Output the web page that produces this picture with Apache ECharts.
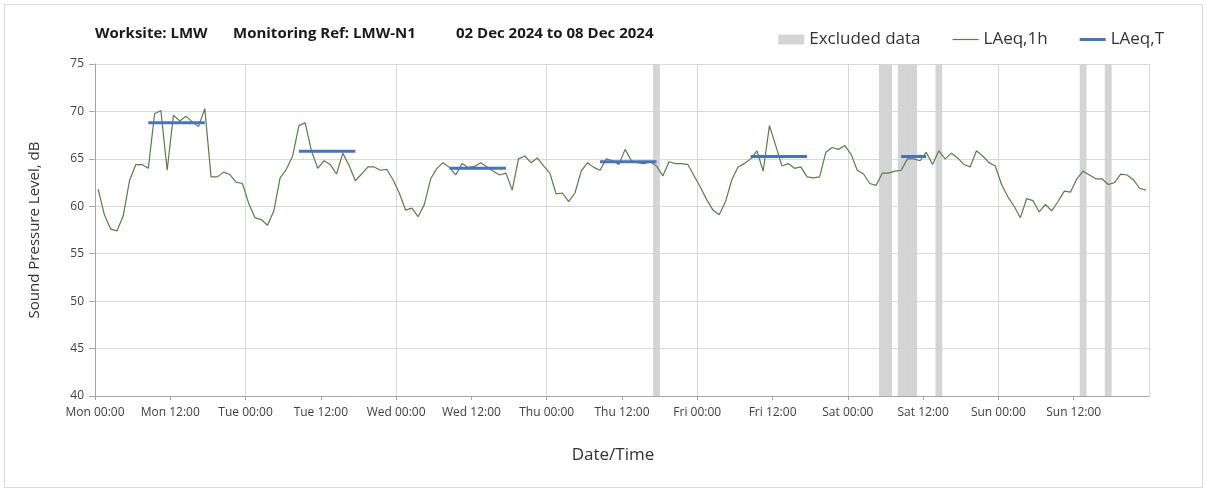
<!DOCTYPE html>
<html>
<head>
<meta charset="utf-8">
<script src="https://cdn.jsdelivr.net/npm/echarts@6/dist/echarts.min.js"></script>
<style>
  html, body { margin: 0; padding: 0; background: #fff; }
  #main { width: 1207px; height: 492px; }
</style>
</head>
<body>
<div id="main"></div>
<script>
// hourly values, Mon 00:00 .. Sun 23:00 (plotted at mid-hour)
var days = ['Mon', 'Tue', 'Wed', 'Thu', 'Fri', 'Sat', 'Sun'];
var laeq1h = [
    61.8, 59.1, 57.6, 57.4, 59.0, 62.7, 64.4, 64.4, 64.0, 69.75, 70.1, 63.8, 69.6, 69.0, 69.5, 68.9, 68.4, 70.3, 63.1, 63.1, 63.6, 63.35, 62.55, 62.4,
    60.3, 58.8, 58.6, 58.0, 59.5, 63.0, 63.9, 65.3, 68.5, 68.8, 65.85, 64.0, 64.8, 64.4, 63.4, 65.6, 64.3, 62.7, 63.4, 64.15, 64.15, 63.8, 63.9, 62.8,
    61.4, 59.6, 59.8, 58.9, 60.2, 62.9, 64.0, 64.6, 64.1, 63.3, 64.5, 64.1, 64.2, 64.6, 64.15, 63.7, 63.3, 63.5, 61.7, 65.0, 65.3, 64.6, 65.1, 64.25,
    63.5, 61.3, 61.4, 60.5, 61.4, 63.7, 64.6, 64.1, 63.8, 65.0, 64.8, 64.4, 66.0, 64.8, 64.6, 64.5, 64.7, 64.25, 63.2, 64.7, 64.5, 64.5, 64.4, 63.2,
    62.0, 60.7, 59.6, 59.1, 60.5, 62.8, 64.15, 64.5, 65.0, 65.85, 63.7, 68.5, 66.4, 64.25, 64.5, 64.0, 64.15, 63.1, 63.0, 63.1, 65.7, 66.2, 66.0, 66.4,
    65.5, 63.8, 63.4, 62.4, 62.2, 63.5, 63.5, 63.7, 63.8, 65.0, 65.0, 64.8, 65.7, 64.4, 65.85, 65.0, 65.6, 65.1, 64.4, 64.15, 65.85, 65.3, 64.6, 64.25,
    62.3, 61.0, 60.0, 58.8, 60.8, 60.6, 59.4, 60.2, 59.5, 60.5, 61.6, 61.5, 62.9, 63.7, 63.3, 62.9, 62.9, 62.3, 62.5, 63.4, 63.3, 62.8, 61.9, 61.7
];
// hours flagged as excluded
var excludedHours = [89, 125, 126, 128, 129, 130, 134, 157, 161];
// LAeq,T periods (first and last hour) and levels
var periodStart = [8, 32, 56, 80, 104, 128];
var periodEnd = [17, 41, 65, 89, 113, 132];
var laeqT = [68.8, 65.8, 64.0, 64.7, 65.25, 65.25];

var lineData = laeq1h.map(function (v, i) { return [i + 0.5, v]; });
var excludedData = excludedHours.map(function (h) { return [h + 0.5, 75]; });
var laeqTData = [];
for (var k = 0; k < laeqT.length; k++) {
    laeqTData.push([periodStart[k] + 0.5, laeqT[k]]);
    laeqTData.push([periodEnd[k] + 0.5, laeqT[k]]);
    laeqTData.push('-');
}

var myChart = echarts.init(document.getElementById('main'));
var font = '"Open Sans", Lato, sans-serif';
var titleStyle = { fontSize: 15, fontWeight: 'bold', color: '#1a1a1a', fontFamily: font };

var option = {
    animation: false,
    backgroundColor: '#fff',
    textStyle: { fontFamily: font },
    graphic: [{
        type: 'rect',
        shape: { x: 4.5, y: 4.5, width: 1198, height: 483 },
        style: { fill: 'none', stroke: '#d9d9d9', lineWidth: 1 }
    }],
    title: [
        { text: 'Worksite: LMW', left: 90, top: 21, textStyle: titleStyle },
        { text: 'Monitoring Ref: LMW-N1', left: 228, top: 21, textStyle: titleStyle },
        { text: '02 Dec 2024 to 08 Dec 2024', left: 451, top: 21, textStyle: titleStyle }
    ],
    legend: {
        right: 38,
        top: 26,
        itemWidth: 26,
        itemHeight: 10,
        itemGap: 32,
        textStyle: { fontSize: 17, color: '#333', fontFamily: font },
        data: [
            { name: 'Excluded data', icon: 'rect' },
            { name: 'LAeq,1h', icon: 'path://M0,0 L0,0 M0,10 L0,10 M0,4.4 L26,4.4 L26,5.6 L0,5.6 Z' },
            { name: 'LAeq,T', icon: 'path://M0,0 L0,0 M0,10 L0,10 M0,3.5 L26,3.5 L26,6.5 L0,6.5 Z' }
        ]
    },
    grid: { left: 95, right: 58, top: 64, bottom: 96 },
    xAxis: [{
        type: 'value',
        min: 0,
        max: 168,
        interval: 12,
        name: 'Date/Time',
        nameLocation: 'middle',
        nameGap: 51,
        nameTextStyle: { fontSize: 17, color: '#333', fontFamily: font, padding: [0, 18, 0, 0] },
        axisLine: { lineStyle: { color: '#a6a6a6' } },
        axisTick: { show: true, length: 4, lineStyle: { color: '#a6a6a6' } },
        splitLine: { show: false },
        axisLabel: {
            fontSize: 12,
            color: '#404040',
            margin: 11,
            showMaxLabel: false,
            formatter: function (v) {
                if (v >= 168) return '';
                return days[Math.floor(v / 24)] + ' ' + (v % 24 === 0 ? '00:00' : '12:00');
            }
        }
    }, {
        type: 'value',
        min: 0,
        max: 168,
        interval: 24,
        position: 'bottom',
        axisLine: { show: false },
        axisTick: { show: false },
        axisLabel: { show: false },
        splitLine: { show: true, lineStyle: { color: '#d9d9d9' } }
    }],
    yAxis: {
        type: 'value',
        min: 40,
        max: 75,
        interval: 5,
        name: 'Sound Pressure Level, dB',
        nameLocation: 'middle',
        nameGap: 53,
        nameTextStyle: { fontSize: 15, color: '#333', fontFamily: font },
        axisLine: { show: true, lineStyle: { color: '#a6a6a6' } },
        axisTick: { show: true, length: 6, lineStyle: { color: '#a6a6a6' } },
        axisLabel: { fontSize: 12, color: '#404040', margin: 11 },
        splitLine: { lineStyle: { color: '#d9d9d9' } }
    },
    series: [{
        name: 'Excluded data',
        type: 'bar',
        barWidth: 6.8,
        itemStyle: { color: '#d4d4d4' },
        data: excludedData
    }, {
        name: 'LAeq,1h',
        type: 'line',
        symbol: 'none',
        lineStyle: { width: 1.2, color: '#5a7d46' },
        itemStyle: { color: '#5a7d46' },
        data: lineData
    }, {
        name: 'LAeq,T',
        type: 'line',
        symbol: 'none',
        connectNulls: false,
        lineStyle: { width: 3, color: '#4472c4' },
        itemStyle: { color: '#4472c4' },
        data: laeqTData
    }]
};
myChart.setOption(option);
</script>
</body>
</html>
